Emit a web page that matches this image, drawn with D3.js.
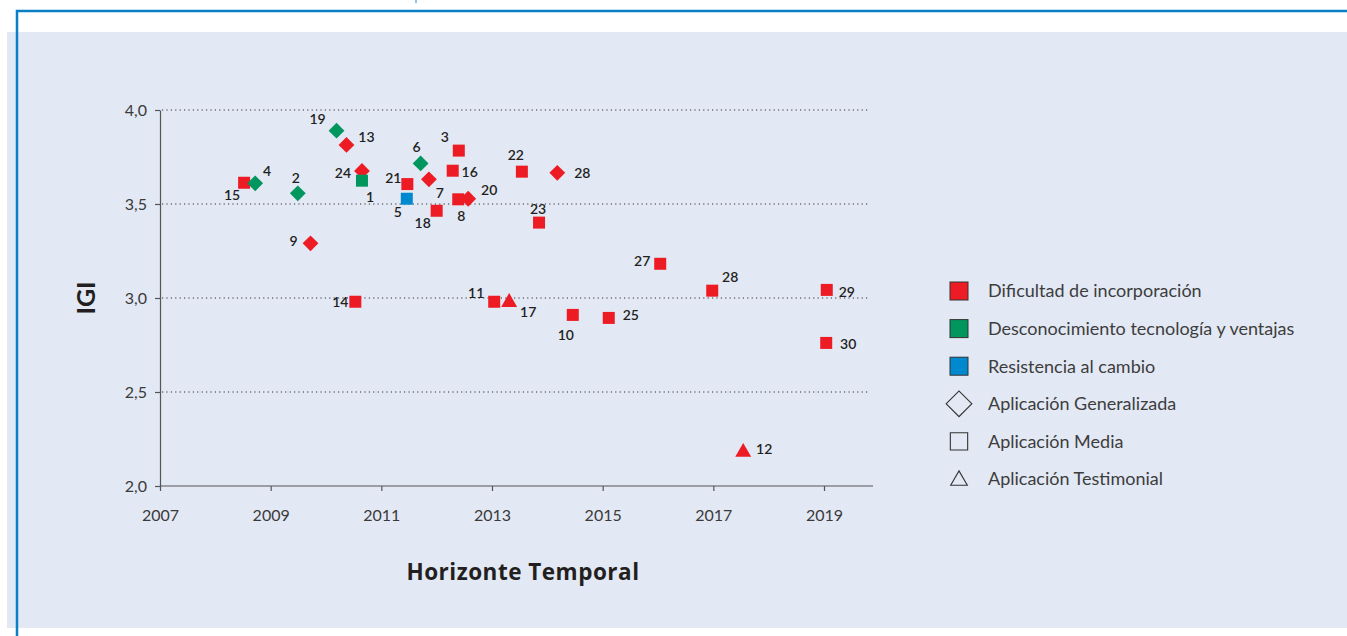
<!DOCTYPE html>
<meta charset="utf-8">
<style>
  body { margin: 0; background: #fff; }
  svg { display: block; font-family: Lato, "Open Sans", sans-serif; }
  .grid line { stroke: #333; stroke-width: 1px; stroke-dasharray: 1.2 3.2; }
  .axis path, .axis line { stroke: #555; stroke-width: 1.2px; }
  .axis text { font-size: 16px; fill: #3a3a3a; font-family: Lato, sans-serif; }
  .lbl { font-size: 14px; fill: #231f20; font-weight: 600; }
  .legend text { font-size: 18px; fill: #3d3d3d; }
</style>
<body>
<svg width="1347" height="636"></svg>
<script src="https://d3js.org/d3.v7.min.js"></script>
<script>
// data ---------------------------------------------------------------------
var ids      = ["15","4","2","19","13","24","1","9","14","21","5","6","7","18","3","16","8","20","11","22","28","23","27","28","29","17","10","25","30","12"];
var years    = [2008.52,2008.72,2009.49,2010.19,2010.37,2010.65,2010.65,2009.72,2010.53,2011.47,2011.46,2011.71,2011.86,2012.0,2012.40,2012.29,2012.39,2012.57,2013.04,2013.54,2014.18,2013.85,2016.04,2016.98,2019.05,2013.31,2014.46,2015.11,2019.04,2017.54];
var igi      = [3.613,3.610,3.557,3.890,3.814,3.676,3.624,3.291,2.980,3.606,3.528,3.716,3.631,3.464,3.784,3.677,3.525,3.528,2.980,3.672,3.666,3.401,3.182,3.039,3.043,2.977,2.910,2.894,2.761,2.180];
// 0 Dificultad, 1 Desconocimiento, 2 Resistencia
var barrera  = [0,1,1,1,0,0,1,0,0,0,2,1,0,0,0,0,0,0,0,0,0,0,0,0,0,0,0,0,0,0];
// "G" generalizada, "M" media, "T" testimonial
var aplic    = ["M","G","G","G","G","G","M","G","M","M","M","G","G","M","M","M","M","G","M","M","G","M","M","M","M","T","M","M","M","T"];
var yTicks   = [2.0,2.5,3.0,3.5,4.0];
var xTicks   = [2007,2009,2011,2013,2015,2017,2019];
var barreraNames = ["Dificultad de incorporación","Desconocimiento tecnología y ventajas","Resistencia al cambio"];
var aplicNames   = ["Aplicación Generalizada","Aplicación Media","Aplicación Testimonial"];

// label offsets (dx, dy) from the marker centre --------------------------
var labelOffsets = [[-12,12],[12,-12],[-2,-15],[-19,-12],[20,-8],[-19,2],[8,16],[-17,-2],[-15,0],[-14,-6],[-9,13],[-4,-16],[11,14],[-14,12],[-14,-14],[17,1],[3,17],[21,-9],[-18,-9],[-6,-17],[25,0],[-1,-14],[-18,-3],[18,-14],[20,2],[19,10],[-7,20],[22,-3],[22,1],[21,-3]];

var colors = ["#ed1c24","#00965e","#0089cf"];

const svg = d3.select("svg");

// frame ------------------------------------------------------------------
svg.append("rect").attr("x", 7).attr("y", 32).attr("width", 1340).attr("height", 596).attr("fill", "#e2e8f4");
svg.append("path").attr("d", "M17,636 V11 H1350").attr("fill", "none").attr("stroke", "#0a7fc6").attr("stroke-width", 2.5);
svg.append("line").attr("x1", 416).attr("x2", 416).attr("y1", 0).attr("y2", 3).attr("stroke", "#6aaee0").attr("stroke-width", 1.5);

// scales -----------------------------------------------------------------
const x = d3.scaleLinear().domain([2007, 2019]).range([160, 824]);
const y = d3.scaleLinear().domain([2, 4]).range([486, 110]);
const xEnd = 873;

// grid
svg.append("g").attr("class", "grid")
  .selectAll("line").data(yTicks.filter(d => d > 2)).enter().append("line")
  .attr("x1", 162).attr("x2", 870)
  .attr("y1", d => y(d)).attr("y2", d => y(d));

// axes
const yAxis = d3.axisLeft(y).tickValues(yTicks).tickSize(5).tickSizeOuter(0)
  .tickFormat(d => d3.format(".1f")(d).replace(".", ","));
svg.append("g").attr("class", "axis").attr("transform", "translate(160,0)").call(yAxis)
  .call(g => g.selectAll("text").attr("dx", -5));

const xAxis = d3.axisBottom(x).tickValues(xTicks).tickSize(5).tickSizeOuter(0).tickFormat(d3.format("d"));
const xg = svg.append("g").attr("class", "axis").attr("transform", "translate(0,486)").call(xAxis);
xg.select(".domain").attr("d", "M160,0H" + xEnd);
xg.selectAll("text").attr("dy", "1.7em");

// titles
svg.append("text").attr("transform", "translate(95,298) rotate(-90)").attr("text-anchor", "middle")
  .style("font-size", "25px").style("font-weight", 700).attr("fill", "#231f20").text("IGI");
svg.append("text").attr("x", 523).attr("y", 580).attr("text-anchor", "middle")
  .style("font-family", "'Open Sans', sans-serif")
  .style("font-size", "22.5px").style("font-weight", 700).style("letter-spacing", "0.5px")
  .attr("fill", "#231f20").text("Horizonte Temporal");

// markers ----------------------------------------------------------------
const shapes = { G: d3.symbolSquare, M: d3.symbolSquare, T: d3.symbolTriangle };
const sizes  = { G: 125, M: 144, T: 110 };

const pts = d3.range(ids.length);
svg.append("g").selectAll("path").data(pts).enter().append("path")
  .attr("d", i => d3.symbol().type(shapes[aplic[i]]).size(sizes[aplic[i]])())
  .attr("transform", i => "translate(" + x(years[i]) + "," + y(igi[i]) + ")" + (aplic[i] === "G" ? " rotate(45)" : ""))
  .attr("fill", i => colors[barrera[i]]);

svg.append("g").selectAll("text").data(pts).enter().append("text")
  .attr("class", "lbl")
  .attr("x", i => x(years[i]) + labelOffsets[i][0])
  .attr("y", i => y(igi[i]) + labelOffsets[i][1])
  .attr("text-anchor", "middle").attr("dy", "0.35em")
  .text(i => ids[i]);

// legend -----------------------------------------------------------------
const lg = svg.append("g").attr("class", "legend").attr("transform", "translate(959,291)");
const rowH = 37.6;
barreraNames.forEach((n, i) => {
  const r = lg.append("g").attr("transform", "translate(0," + (i * rowH) + ")");
  r.append("rect").attr("x", -9).attr("y", -9).attr("width", 18).attr("height", 18)
    .attr("fill", colors[i]).attr("stroke", "#333").attr("stroke-width", 1);
  r.append("text").attr("x", 29).attr("dy", "0.35em").text(n);
});
aplicNames.forEach((n, j) => {
  const i = j + 3;
  const r = lg.append("g").attr("transform", "translate(0," + (i * rowH) + ")");
  let sym;
  if (j === 0) sym = d3.symbol().type(d3.symbolSquare).size(330)();
  else if (j === 1) sym = d3.symbol().type(d3.symbolSquare).size(300)();
  else sym = d3.symbol().type(d3.symbolTriangle).size(120)();
  r.append("path").attr("d", sym).attr("fill", "none").attr("stroke", "#333").attr("stroke-width", 1.1)
    .attr("transform", j === 0 ? "rotate(45)" : (j === 2 ? "translate(0,1.5)" : null));
  r.append("text").attr("x", 29).attr("dy", "0.35em").text(n);
});
</script>
</body>
